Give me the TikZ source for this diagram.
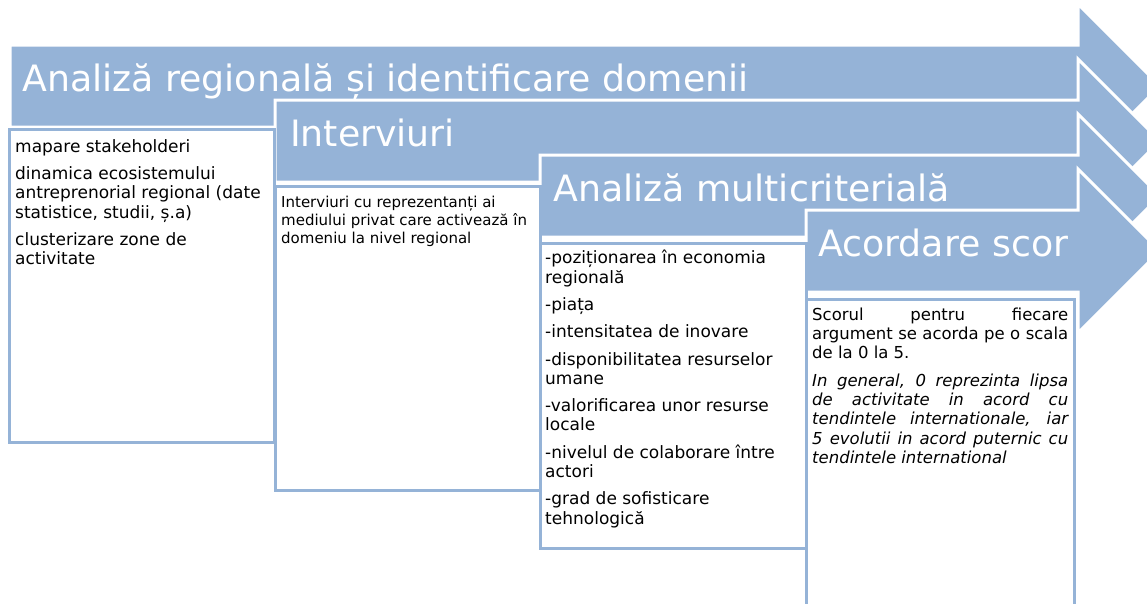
\documentclass[tikz,border=0pt]{standalone}
\usepackage{fontspec}
\setmainfont{DejaVu Sans}
\setlength\parindent{0pt}
\definecolor{stageblue}{HTML}{95B3D7}
\tikzset{
  stage/.style={fill=stageblue, draw=white, line width=3pt, line join=miter},
  panel/.style={draw=stageblue, line width=3.2pt, fill=white, anchor=north west, inner sep=0pt},
  title/.style={text=white, font=\fontsize{36.3}{40}\selectfont, anchor=base west, inner sep=0pt},
  notes/.style={anchor=north west, inner sep=0pt, align=left, font=\fontsize{17}{19.3}\selectfont},
}
\newcommand{\firstline}{\rule{0pt}{13pt}}

\begin{document}
\begin{tikzpicture}[x=1pt,y=-1pt]
\useasboundingbox (0,0) rectangle (1147,603);
\clip (0,0) rectangle (1147,603);

% the four stage arrows, back to front
\foreach \x/\y in {10/45,275/100,540/155,806/210}{
  \draw[stage] (\x,\y) -- (1078,\y) -- (1078,\y-41) -- (1160,\y+41)
    -- (1078,\y+123) -- (1078,\y+82) -- (\x,\y+82) -- cycle;
}

\node[title] (regional) at (22,91) {Analiză regională și identificare domenii};
\node[title] (interviuri) at (290,146) {Interviuri};
\node[title] (multicriterial) at (553,201) {Analiză multicriterială};
\node[title] (scor) at (818,256) {Acordare scor};

% boxes under the arrows
\node[panel, minimum width=265pt, minimum height=313pt] (box1) at (8,128) {};
\node[panel, minimum width=265pt, minimum height=304pt] (box2) at (274,185) {};
\node[panel, minimum width=266pt, minimum height=305pt] (box3) at (539,242) {};
\node[panel, minimum width=268pt, minimum height=322pt] (box4) at (805,298) {};

\node[notes] (list1) at (15,139) {\firstline mapare stakeholderi\\[8pt]
  dinamica ecosistemului\\ antreprenorial regional (date\\ statistice, studii, ș.a)\\[8pt]
  clusterizare zone de\\ activitate};
\node[notes, font=\fontsize{15}{18}\selectfont] (list2) at (281,195)
  {\rule{0pt}{12pt}Interviuri cu reprezentanți ai\\ mediului privat care activează în\\
  domeniu la nivel regional};
\node[notes] (list3) at (545,250) {\firstline -poziționarea în economia\\ regională\\[8pt]
  -piața\\[8pt]
  -intensitatea de inovare\\[8pt]
  -disponibilitatea resurselor\\ umane\\[8pt]
  -valorificarea unor resurse\\ locale\\[8pt]
  -nivelul de colaborare între\\ actori\\[8pt]
  -grad de sofisticare\\ tehnologică};
\node[notes, align=justify, text width=256pt, font=\fontsize{16.5}{19.3}\selectfont] (list4) at (812,307)
  {\firstline Scorul pentru fiecare\linebreak argument se acorda pe o scala de la 0 la 5.\par
  \vspace{8pt}\itshape In general, 0 reprezinta lipsa\linebreak de activitate in acord cu\linebreak
  tendintele internationale, iar\linebreak 5 evolutii in acord puternic cu\linebreak
  tendintele international};
\end{tikzpicture}
\end{document}
